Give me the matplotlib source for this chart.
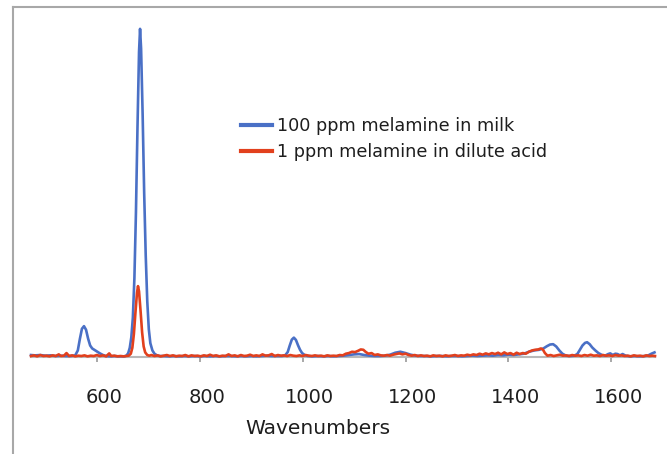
import matplotlib
matplotlib.use("Agg")
import matplotlib.pyplot as plt
from matplotlib.lines import Line2D
from matplotlib.transforms import ScaledTranslation

# ---- data ----
milk_x = [472, 480, 490, 500, 510, 520, 530, 540, 550, 558, 563, 567, 571, 575, 579, 583, 587, 591, 596,
          601, 606, 612, 618, 626, 634, 642, 650, 654, 658, 661, 664, 667, 670, 673, 676, 679, 682, 684,
          686, 689, 692, 695, 698, 701, 704, 708, 712, 717, 722, 730, 740, 750, 760, 770, 780, 790, 800,
          810, 820, 830, 840, 850, 860, 870, 880, 890, 900, 910, 920, 930, 940, 950, 960, 966, 971, 975,
          979, 983, 987, 991, 995, 999, 1004, 1010, 1020, 1030, 1040, 1050, 1060, 1070, 1080, 1090, 1100,
          1110, 1120, 1130, 1140, 1150, 1160, 1170, 1180, 1190, 1200, 1210, 1220, 1230, 1240, 1250, 1260,
          1270, 1280, 1290, 1300, 1310, 1320, 1330, 1340, 1350, 1360, 1370, 1380, 1390, 1400, 1410, 1420,
          1430, 1440, 1450, 1460, 1468, 1475, 1481, 1487, 1493, 1499, 1505, 1512, 1520, 1528, 1534, 1539,
          1544, 1549, 1553, 1558, 1563, 1569, 1575, 1582, 1588, 1594, 1598, 1603, 1608, 1612, 1617, 1622,
          1628, 1636, 1645, 1655, 1665, 1672, 1678, 1684]
milk_y = [0.6, 0.5, 0.6, 0.4, 0.5, 0.3, 0.4, 0.3, 0.3, 0.5, 2.0, 5.5, 8.6, 9.4, 8.3, 5.6, 3.5, 2.6, 2.1,
          1.6, 1.1, 0.6, 0.3, 0.2, 0.3, 0.2, 0.2, 0.2, 0.5, 1.2, 2.8, 6.0, 12, 24, 44, 70, 93, 100,
          94, 74, 50, 31, 17, 8.5, 4.2, 2.0, 1.0, 0.5, 0.3, 0.3, 0.2, 0.3, 0.2, 0.3, 0.2, 0.3, 0.2,
          0.3, 0.2, 0.3, 0.2, 0.3, 0.3, 0.2, 0.3, 0.2, 0.3, 0.2, 0.3, 0.4, 0.3, 0.3, 0.3, 0.5, 1.5, 3.5,
          5.3, 5.9, 5.2, 3.6, 2.2, 1.2, 0.6, 0.3, 0.2, 0.3, 0.2, 0.3, 0.2, 0.3, 0.4, 0.6, 0.8,
          0.9, 0.6, 0.4, 0.3, 0.3, 0.4, 0.7, 1.3, 1.6, 1.2, 0.7, 0.4, 0.3, 0.3, 0.2, 0.3,
          0.3, 0.2, 0.3, 0.3, 0.2, 0.3, 0.4, 0.3, 0.4, 0.5, 0.4, 0.6, 0.5, 0.7, 0.6, 0.8,
          1.0, 1.6, 2.0, 2.2, 2.6, 3.3, 3.8, 3.9, 3.2, 2.0, 1.0, 0.4, 0.3, 0.4, 0.9, 2.2,
          3.5, 4.3, 4.5, 3.9, 2.9, 2.0, 1.2, 0.6, 0.4, 0.9, 1.1, 0.6, 1.0, 0.9, 0.5, 0.9,
          0.4, 0.2, 0.3, 0.2, 0.3, 0.5, 1.0, 1.4]

acid_x = [472, 478, 484, 490, 496, 502, 508, 514, 520, 526, 530, 536, 541, 546, 552, 558, 564, 570, 576,
          582, 588, 594, 600, 606, 612, 618, 624, 628, 634, 640, 646, 652, 658, 662, 666, 669, 672, 675,
          678, 680, 682, 685, 688, 691, 694, 698, 702, 706, 712, 718, 724, 730, 736, 742, 748, 754, 760,
          766, 772, 778, 784, 790, 796, 802, 808, 814, 820, 826, 832, 838, 844, 850, 856, 862, 868, 874,
          880, 886, 892, 898, 904, 910, 916, 922, 928, 934, 940, 946, 952, 958, 964, 970, 976, 982, 988,
          994, 1000, 1006, 1012, 1018, 1024, 1030, 1036, 1042, 1048, 1054, 1060, 1066, 1072, 1078, 1084,
          1090, 1096, 1102, 1108, 1113, 1118, 1123, 1128, 1134, 1140, 1146, 1152, 1158, 1164, 1170, 1176,
          1182, 1188, 1194, 1200, 1206, 1212, 1218, 1224, 1230, 1236, 1242, 1248, 1254, 1260, 1266, 1272,
          1278, 1284, 1290, 1296, 1302, 1308, 1314, 1320, 1326, 1332, 1338, 1344, 1350, 1356, 1362, 1368,
          1374, 1380, 1386, 1392, 1398, 1404, 1410, 1416, 1422, 1428, 1434, 1440, 1446, 1452, 1458, 1463,
          1467, 1471, 1476, 1482, 1488, 1494, 1500, 1506, 1512, 1518, 1524, 1530, 1536, 1542, 1548, 1554,
          1560, 1566, 1572, 1578, 1584, 1590, 1596, 1602, 1608, 1614, 1620, 1626, 1632, 1638, 1644, 1650,
          1656, 1662, 1668, 1674, 1680, 1685]
acid_y = [0.3, 0.5, 0.2, 0.6, 0.3, 0.4, 0.2, 0.5, 0.3, 0.8, 0.3, 0.4, 1.2, 0.3, 0.5, 0.2, 0.4, 0.3, 0.5,
          0.2, 0.4, 0.3, 0.6, 0.3, 0.5, 0.2, 1.1, 0.3, 0.4, 0.2, 0.3, 0.2, 0.3, 0.4, 1.0, 2.8, 7.0, 13.5,
          19.5, 21.6, 20, 14, 7.5, 3.2, 1.4, 0.6, 0.4, 0.6, 0.3, 0.5, 0.2, 0.4, 0.6, 0.3, 0.5, 0.2, 0.4,
          0.3, 0.6, 0.2, 0.5, 0.3, 0.4, 0.2, 0.5, 0.3, 0.7, 0.3, 0.5, 0.2, 0.4, 0.3, 0.8, 0.3, 0.5, 0.2,
          0.6, 0.3, 0.4, 0.7, 0.3, 0.5, 0.3, 0.8, 0.4, 0.5, 0.9, 0.3, 0.6, 0.4, 0.5, 0.3, 0.6, 0.4, 0.3,
          0.5, 0.3, 0.6, 0.4, 0.3, 0.5, 0.3, 0.4, 0.2, 0.5, 0.3, 0.4, 0.3, 0.6, 0.5, 1.0,
          1.2, 1.6, 1.5, 1.9, 2.3, 2.2, 1.5, 1.0, 1.2, 0.6, 0.8, 0.5, 0.4, 0.6, 0.4, 0.7,
          0.9, 1.1, 0.8, 1.0, 0.6, 0.4, 0.6, 0.3, 0.5, 0.3, 0.4, 0.2, 0.5, 0.3, 0.4, 0.2,
          0.5, 0.3, 0.4, 0.6, 0.3, 0.5, 0.4, 0.7, 0.5, 0.8, 0.6, 1.0, 0.7, 1.1, 0.8, 1.2,
          0.9, 1.3, 0.8, 1.4, 0.9, 1.2, 0.7, 1.3, 0.9, 1.2, 1.0, 1.6, 2.0, 2.2, 2.3, 2.6,
          2.3, 1.2, 0.4, 0.6, 0.3, 0.5, 0.7, 0.4, 0.5, 0.3, 0.6, 0.4, 0.5, 0.3, 0.6, 0.4,
          0.7, 0.4, 0.5, 0.3, 0.6, 0.4, 0.5, 0.3, 0.6, 0.4, 0.5, 0.3, 0.4, 0.2, 0.5, 0.3,
          0.4, 0.2, 0.5, 0.3, 0.4, 0.3]

xticks = [600, 800, 1000, 1200, 1400, 1600]
xtick_labels = ["600", "800", "1000", "1200", "1400", "1600"]
series_labels = ["100 ppm melamine in milk", "1 ppm melamine in dilute acid"]
x_label = "Wavenumbers"

# ---- figure ----
W, H = 667, 454
fig = plt.figure(figsize=(W / 100, H / 100), dpi=100)
fig.patch.set_facecolor("white")

ax_left, ax_right = 31, 655
ax_bottom, ax_top = 357, 20
ax = fig.add_axes([ax_left / W, 1 - ax_bottom / H, (ax_right - ax_left) / W, (ax_bottom - ax_top) / H])
ax.set_xlim(472, 1685)
ax.set_ylim(0, 102.7)

blue = "#4a70c6"
red = "#e2401d"
l1, = ax.plot(milk_x, milk_y, color=blue, lw=1.9, solid_joinstyle="round", clip_on=False, zorder=3)
l2, = ax.plot(acid_x, acid_y, color=red, lw=1.9, solid_joinstyle="round", clip_on=False, zorder=4)

for s in ["top", "right", "left"]:
    ax.spines[s].set_visible(False)
ax.spines["bottom"].set_color("#b8b8b8")
ax.spines["bottom"].set_linewidth(1.5)
ax.spines["bottom"].set_zorder(2)
ax.set_yticks([])
ax.set_xticks(xticks)
ax.set_xticklabels(xtick_labels)
ax.tick_params(axis="x", direction="out", length=3.5, width=1.2, color="#9a9a9a",
               labelsize=14, labelcolor="#1e1e1e", pad=19)
offset = ScaledTranslation(7 / 100, 0, fig.dpi_scale_trans)
for lab in ax.get_xticklabels():
    lab.set_transform(lab.get_transform() + offset)

fig.text(318 / W, 1 - 428 / H, x_label, ha="center", va="center", fontsize=14.5, color="#1e1e1e")

leg = ax.legend([l1, l2], series_labels, loc="upper left",
                bbox_to_anchor=(241 / W, 1 - 117 / H), bbox_transform=fig.transFigure,
                frameon=False, fontsize=12.7, handlelength=1.75, handletextpad=0.3,
                labelspacing=0.45, borderpad=0, borderaxespad=0)
for t in leg.get_texts():
    t.set_color("#1e1e1e")
for h in leg.legend_handles:
    h.set_linewidth(3)

# outer grey frame
fcol = "#a8a8a8"
fig.add_artist(Line2D([13 / W, 13 / W], [0, 1 - 7 / H], transform=fig.transFigure, color=fcol, lw=1.5))
fig.add_artist(Line2D([13 / W, 1], [1 - 7 / H, 1 - 7 / H], transform=fig.transFigure, color=fcol, lw=1.5))

fig.savefig("out.png", dpi=100, facecolor="white")
